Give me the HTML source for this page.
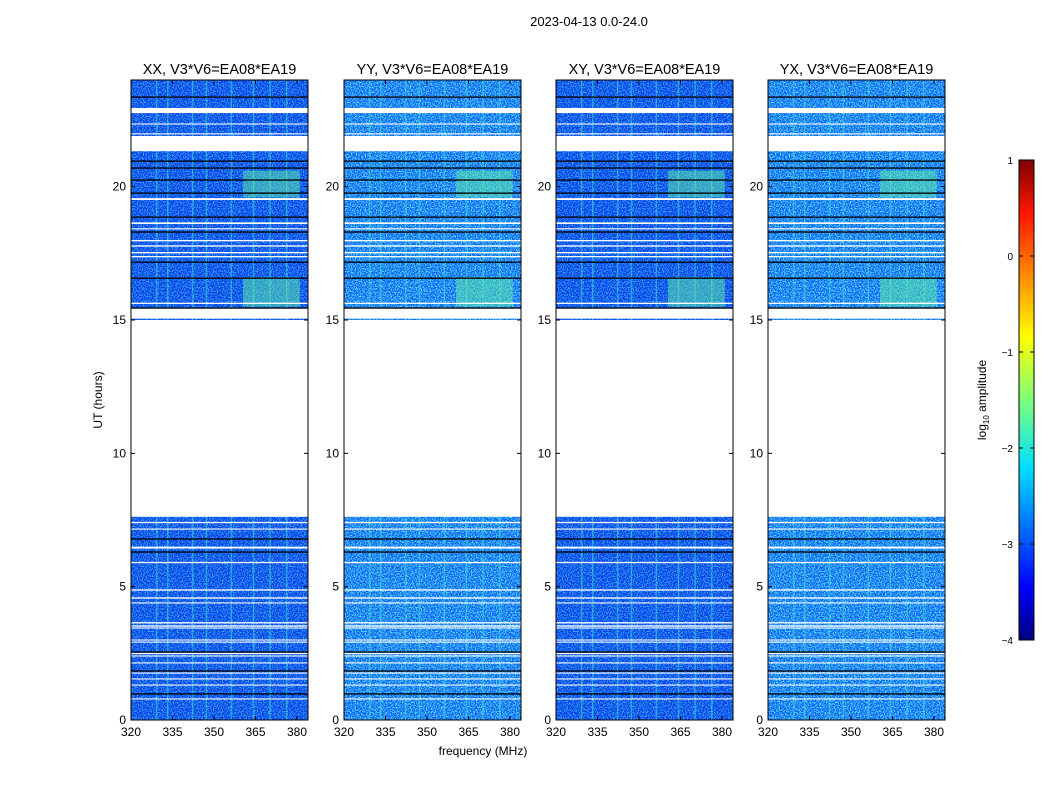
<!DOCTYPE html>
<html><head><meta charset="utf-8"><style>
body{margin:0;background:#fff;}
svg text{font-family:"Liberation Sans",sans-serif;}
</style></head><body>
<svg id="chart" width="1050" height="800" xmlns="http://www.w3.org/2000/svg">
<defs>
<filter id="speck" x="0" y="0" width="100%" height="100%">
<feTurbulence type="fractalNoise" baseFrequency="0.8" numOctaves="2" seed="3" result="n"/>
<feColorMatrix in="n" type="matrix" values="0 0 0 0 0.1  0 0 0 0 0.85  0 0 0 0 1  0 0 0 7 -3.4"/>
</filter>
<filter id="dark" x="0" y="0" width="100%" height="100%">
<feTurbulence type="fractalNoise" baseFrequency="0.7" numOctaves="2" seed="11" result="n"/>
<feColorMatrix in="n" type="matrix" values="0 0 0 0 0  0 0 0 0 0.05  0 0 0 0 0.55  0 0 0 6 -2.9"/>
</filter>
<linearGradient id="jet" x1="0" y1="1" x2="0" y2="0">
<stop offset="0" stop-color="#00007f"/><stop offset="0.11" stop-color="#0000ff"/>
<stop offset="0.36" stop-color="#00e0ff"/><stop offset="0.5" stop-color="#7dff7a"/>
<stop offset="0.63" stop-color="#ffff00"/><stop offset="0.89" stop-color="#ff1400"/>
<stop offset="1" stop-color="#7f0000"/>
</linearGradient>
</defs>
<text x="589" y="26" font-size="13" text-anchor="middle">2023-04-13 0.0-24.0</text>
<text x="483" y="755" font-size="12" text-anchor="middle">frequency (MHz)</text>
<text transform="translate(102,400) rotate(-90)" font-size="12" text-anchor="middle">UT (hours)</text>
<g id="panels"></g>
<g id="cbar"></g>
</svg>
<script>
const panelTitles=["XX, V3*V6=EA08*EA19","YY, V3*V6=EA08*EA19","XY, V3*V6=EA08*EA19","YX, V3*V6=EA08*EA19"];
const panelBase=["#0a42f4","#1a70ff","#0a42f4","#1a70ff"];
const panelNoise=[0.6,0.9,0.6,0.9];
const whiteGaps=[[7.62,15.0],[15.05,15.45],[21.33,21.9],[22.76,22.95],[21.96,22.0],[22.33,22.37],[19.5,19.57],[18.6,18.66],[18.4,18.44],[17.95,18.0],[17.75,17.8],[17.5,17.55],[17.35,17.4],[15.6,15.65],
[7.38,7.43],[7.14,7.18],[6.43,6.5],[5.88,5.93],[4.85,4.9],[4.55,4.6],[4.37,4.41],[3.62,3.67],[3.5,3.55],[3.43,3.47],[2.98,3.02],[2.9,2.94],[2.47,2.52],[2.38,2.42],[2.12,2.16],[1.74,1.78],[1.52,1.56],[1.29,1.33],[0.77,0.81]];
const blackLines=[23.36,20.96,20.7,20.25,19.76,18.86,18.3,17.17,16.57,15.45,6.79,6.3,2.55,1.84,0.98];
const rfiFreqs=[329,333,342,347,356,364,370,376];
const brightBlocks=[[360.5,381,19.6,20.6],[360.5,381,15.5,16.6]];
const xTicks=[320,335,350,365,380];
const yTicks=[0,5,10,15,20];
const cbTicks=[1,0,-1,-2,-3,-4];
const panelX=[131,344,556,768];
const PW=177, TOP=80, BOT=720;
const NS="http://www.w3.org/2000/svg";
function xs(f){return (f-320)*2.767;}
function ys(h){return BOT-h*(BOT-TOP)/24;}
function mk(t,a,p){const e=document.createElementNS(NS,t);for(const k in a)e.setAttribute(k,a[k]);p.appendChild(e);return e;}
const root=document.getElementById('panels');
panelTitles.forEach((title,i)=>{
 const g=mk('g',{transform:`translate(${panelX[i]},0)`},root);
 
 
 const hm=mk('rect',{x:0,y:ys(24),width:PW,height:ys(0)-ys(24),fill:panelBase[i]},g);
 
 
 mk('rect',{x:0,y:ys(24),width:PW,height:ys(0)-ys(24),fill:'#000',filter:'url(#dark)',opacity:0.7},g);
 mk('rect',{x:0,y:ys(24),width:PW,height:ys(0)-ys(24),fill:'#000',filter:'url(#speck)',opacity:panelNoise[i]},g);
 rfiFreqs.forEach(f=>{const r=mk('rect',{x:xs(f),y:ys(24),width:1.5,height:ys(0)-ys(24),fill:'#40e8d0',opacity:0.5},g);
  });
 brightBlocks.forEach(b=>{const r=mk('rect',{x:xs(b[0]),y:ys(b[3]),width:xs(b[1])-xs(b[0]),height:ys(b[2])-ys(b[3]),fill:'#5ef0a0',opacity:0.5},g);
  });
 whiteGaps.forEach(w=>{const r=mk('rect',{x:0,y:ys(w[1]),width:PW,height:ys(w[0])-ys(w[1]),fill:'#fff'},g);
  });
 blackLines.forEach(h=>{const r=mk('rect',{x:0,y:ys(h)-0.6,width:PW,height:1.3,fill:'#000'},g);
  });
 mk('rect',{x:0,y:TOP,width:PW,height:BOT-TOP,fill:'none',stroke:'#000','stroke-width':1},g);
 const t=mk('text',{x:PW/2,y:74,'font-size':14.5,'text-anchor':'middle'},g);t.textContent=title;
 
 xTicks.forEach(v=>{const x=xs(v);mk('line',{x1:x,x2:x,y1:BOT,y2:BOT-4,stroke:'#000'},g);mk('line',{x1:x,x2:x,y1:TOP,y2:TOP+4,stroke:'#000'},g);
  const l=mk('text',{x:x,y:BOT+16,'font-size':12,'text-anchor':'middle'},g);l.textContent=v;
  });
 yTicks.forEach(v=>{const y=ys(v);mk('line',{x1:0,x2:4,y1:y,y2:y,stroke:'#000'},g);mk('line',{x1:PW-4,x2:PW,y1:y,y2:y,stroke:'#000'},g);
  const l=mk('text',{x:-5,y:y+4,'font-size':12,'text-anchor':'end'},g);l.textContent=v;
  });
});
const cb=document.getElementById('cbar');
mk('rect',{x:1019,y:160,width:15,height:480,fill:'url(#jet)',stroke:'#000','stroke-width':1},cb);
cbTicks.forEach(v=>{const y=160+(1-v)*96;mk('line',{x1:1019,x2:1023,y1:y,y2:y,stroke:'#000'},cb);mk('line',{x1:1030,x2:1034,y1:y,y2:y,stroke:'#000'},cb);
 const l=mk('text',{x:1013,y:y+4,'font-size':10,'text-anchor':'end'},cb);l.textContent=v<0?'\u2212'+(-v):v;
 });
const cl=mk('text',{transform:'translate(986,400) rotate(-90)','font-size':12,'text-anchor':'middle'},cb);
cl.innerHTML='log<tspan font-size="8" dy="3">10</tspan><tspan dy="-3"> amplitude</tspan>';


</script>
</body></html>
